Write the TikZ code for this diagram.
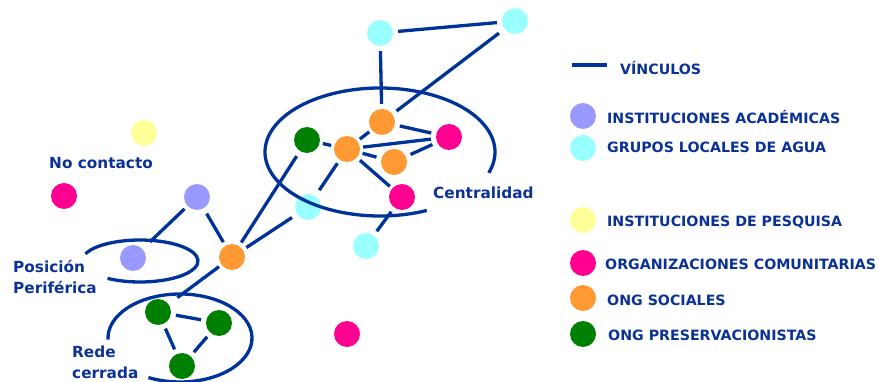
\documentclass[tikz,border=0pt]{standalone}
\usepackage{fontspec}
\setmainfont{DejaVu Sans}
\definecolor{linkblue}{RGB}{0,51,153}
\definecolor{textblue}{RGB}{10,50,150}
\definecolor{academic}{RGB}{153,153,255}
\definecolor{water}{RGB}{153,255,255}
\definecolor{research}{RGB}{255,255,153}
\definecolor{community}{RGB}{255,0,144}
\definecolor{social}{RGB}{255,153,51}
\definecolor{preserv}{RGB}{0,128,0}
\tikzset{
  actor/.style={circle, inner sep=0pt, minimum size=26pt, fill=#1},
  link/.style={draw=linkblue, line width=3.3pt, shorten <=5pt, shorten >=5pt},
  ring/.style={draw=linkblue, line width=3.3pt},
  lbl/.style={text=textblue, font=\fontsize{15.3}{21}\selectfont\bfseries, inner sep=0pt, align=left},
  key/.style={text=textblue, font=\fontsize{14.2}{18}\selectfont\bfseries, inner sep=0pt, anchor=west},
}
\begin{document}
\begin{tikzpicture}[x=1pt, y=-1pt]
\useasboundingbox (0,0) rectangle (879,382);

% actors of the network
\node[actor=water]     (wtl) at (380,33) {};
\node[actor=water]     (wtr) at (515,21) {};
\node[actor=social]    (stop) at (382,122) {};
\node[actor=preserv]   (gc) at (307,140) {};
\node[actor=social]    (sc) at (347,149) {};
\node[actor=community] (mr) at (449,137) {};
\node[actor=social]    (sr) at (394,162) {};
\node[actor=community] (ml) at (402,197) {};
\node[actor=water]     (wm) at (308,207) {};
\node[actor=water]     (wl) at (366,246) {};
\node[actor=research]  (yel) at (144,133) {};
\node[actor=community] (mnc) at (64,196) {};
\node[actor=academic]  (au) at (197,197) {};
\node[actor=academic]  (ap) at (133,258) {};
\node[actor=social]    (hub) at (232,257) {};
\node[actor=preserv]   (ga) at (158,312) {};
\node[actor=preserv]   (gb) at (219,323) {};
\node[actor=preserv]   (gcc) at (182,366) {};
\node[actor=community] (mb) at (347,334) {};

% links
\draw[link] (wtl) -- (wtr);
\draw[link] (wtl) -- (stop);
\draw[link, shorten <=7pt] (wtr) -- (stop);
\draw[link] (stop) -- (mr);
\draw[link, shorten <=3pt, shorten >=3pt] (stop) -- (sc);
\draw[link, shorten <=3pt, shorten >=3pt] (gc) -- (sc);
\draw[link, shorten <=3pt] (sc) -- (mr);
\draw[link, shorten <=3pt] (sc) -- (sr);
\draw[link] (sr) -- (mr);
\draw[link, shorten <=4pt, shorten >=3pt] (sc) -- (ml);
\draw[link, shorten <=4pt, shorten >=7pt] (sc) -- (wm);
\draw[link] (ml) -- (wl);
\draw[link, shorten <=6pt, shorten >=4pt] (gc) -- (hub);
\draw[link, shorten <=6pt, shorten >=4pt] (wm) -- (hub);
\draw[link, shorten <=6pt, shorten >=4pt] (au) -- (hub);
\draw[link, shorten <=4pt, shorten >=10pt] (au) -- (ap);
\draw[link, shorten <=3pt, shorten >=11pt] (hub) -- (ga);
\draw[link] (ga) -- (gb);
\draw[link] (ga) -- (gcc);
\draw[link] (gb) -- (gcc);

% open rings around the groups
\coordinate (cc) at (380,152);
\coordinate (pc) at (140,261);
\coordinate (rc) at (180,338);
\draw[ring] (cc) ++(66:115 and 64) arc[start angle=66, end angle=379, x radius=115, y radius=64];
\draw[ring] (pc) ++(-160:58 and 21) arc[start angle=-160, end angle=124, x radius=58, y radius=21];
\draw[ring] (rc) ++(-182:72 and 44) arc[start angle=-182, end angle=116, x radius=72, y radius=44];

% group labels
\node[lbl, anchor=west] (tnc) at (49,163) {No contacto};
\node[lbl, anchor=west] (tcen) at (433,193) {Centralidad};
\node[lbl, anchor=west] (tper) at (13,276.5) {Posición\\Periférica};
\node[lbl, anchor=west] (tred) at (72,362.5) {Rede\\cerrada};

% legend
\coordinate (la) at (572,65);
\coordinate (lb) at (607,65);
\draw[ring] (la) -- (lb);
\node[key] (lv) at (620,68) {VÍNCULOS};
\node[actor=academic]  (k1) at (583,116) {};
\node[actor=water]     (k2) at (583,148) {};
\node[actor=research]  (k3) at (583,220) {};
\node[actor=community] (k4) at (583,263) {};
\node[actor=social]    (k5) at (583,298) {};
\node[actor=preserv]   (k6) at (583,334) {};
\node[key] (t1) at (607,117) {INSTITUCIONES ACADÉMICAS};
\node[key] (t2) at (607,147) {GRUPOS LOCALES DE AGUA};
\node[key] (t3) at (607,222) {INSTITUCIONES DE PESQUISA};
\node[key] (t4) at (605,264) {ORGANIZACIONES COMUNITARIAS};
\node[key] (t5) at (607,300) {ONG SOCIALES};
\node[key] (t6) at (608,335) {ONG PRESERVACIONISTAS};
\end{tikzpicture}
\end{document}
